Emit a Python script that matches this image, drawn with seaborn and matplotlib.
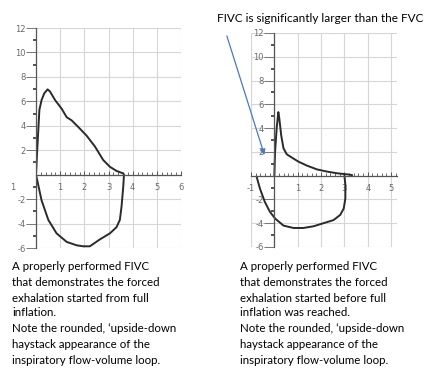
import numpy as np
import pandas as pd
import matplotlib
matplotlib.use("Agg")
import matplotlib.pyplot as plt
import seaborn as sns
from matplotlib.ticker import MultipleLocator, FixedLocator

sns.set_theme(style="white")
plt.rcParams['font.family'] = ['Lato', 'DejaVu Sans']

# ---- data: left panel (full inflation) ----
left_vol = [0, 0.05, 0.14, 0.23, 0.34, 0.48, 0.58, 0.79, 1.06, 1.27, 1.47, 1.75, 2.09, 2.44, 2.78, 3.06, 3.33, 3.61, 3.64,
            3.61, 3.54, 3.47, 3.33, 3.06, 2.64, 2.23, 1.95, 1.68, 1.27, 0.85, 0.51, 0.23, 0.05, 0]
left_flow = [0, 2.0, 5.3, 6.1, 6.65, 6.98, 6.8, 6.1, 5.4, 4.7, 4.45, 3.9, 3.2, 2.3, 1.2, 0.64, 0.31, 0.1, 0,
             -1.0, -2.6, -3.7, -4.3, -4.8, -5.3, -5.86, -5.86, -5.78, -5.5, -4.8, -3.7, -2.1, -0.45, 0]

# ---- data: right panel (before full inflation) ----
right_exp_vol = [0, 0.03, 0.10, 0.17, 0.21, 0.29, 0.39, 0.53, 0.75, 1.03, 1.39, 1.82, 2.26, 2.69, 3.12, 3.33]
right_exp_flow = [0, 2.0, 4.0, 5.35, 4.85, 3.43, 2.3, 1.8, 1.52, 1.18, 0.85, 0.53, 0.34, 0.2, 0.11, 0.05]
right_insp_vol = [3.0, 3.04, 3.04, 2.97, 2.82, 2.53, 2.1, 1.67, 1.24, 0.82, 0.39, 0.03, -0.19, -0.41, -0.62, -0.76]
right_insp_flow = [0, -0.8, -1.9, -2.76, -3.3, -3.74, -4.0, -4.26, -4.4, -4.4, -4.2, -3.6, -3.04, -2.2, -1.07, -0.08]

y_major = [12, 10, 8, 6, 4, 2, -2, -4, -6]
y_minor = [11, 9, 7, 5, 3, 1, -1, -3, -5]
left_xticks = [1, 2, 3, 4, 5, 6]
right_xticks = [-1, 1, 2, 3, 4, 5]

title_text = "FIVC is significantly larger than the FVC"
left_caption = ["A properly performed FIVC",
                "that demonstrates the forced",
                "exhalation started from full",
                "inflation.",
                "Note the rounded, \u2018upside-down",
                "haystack appearance of the",
                "inspiratory flow-volume loop."]
right_caption = ["A properly performed FIVC",
                 "that demonstrates the forced",
                 "exhalation started before full",
                 "inflation was reached.",
                 "Note the rounded, \u2018upside-down",
                 "haystack appearance of the",
                 "inspiratory flow-volume loop."]

W, H = 429, 369
fig = plt.figure(figsize=(W / 100, H / 100), dpi=100)

def px_axes(x0, y0, x1, y1):
    return fig.add_axes([x0 / W, 1 - y1 / H, (x1 - x0) / W, (y1 - y0) / H])

axL = px_axes(36, 28, 181, 248)
axR = px_axes(251, 33, 397, 247)

line_col = "#2a2a2a"
lab_col = "#6a6a6a"

def style(ax, xlim, xticks):
    ax.set_xlim(*xlim)
    ax.set_ylim(-6, 12)
    for s in ["top", "right"]:
        ax.spines[s].set_visible(False)
    ax.spines["left"].set_position(("data", 0))
    ax.spines["bottom"].set_position(("data", 0))
    for s in ["left", "bottom"]:
        ax.spines[s].set_color("#555555")
        ax.spines[s].set_linewidth(0.9)
    # grid
    gx = np.arange(np.ceil(xlim[0]), np.floor(xlim[1]) + 1)
    for v in gx:
        ax.axvline(v, color="#d6d6d6", lw=0.8, zorder=0)
    for v in range(-6, 13, 2):
        ax.axhline(v, color="#d6d6d6", lw=0.8, zorder=0)
    if xlim[0] < 0:
        ax.axvline(xlim[0], color="#d6d6d6", lw=0.8, zorder=0)
    # y ticks
    ax.yaxis.set_major_locator(FixedLocator(y_major))
    ax.yaxis.set_minor_locator(FixedLocator(y_minor))
    ax.set_yticklabels([str(v) for v in y_major])
    ax.tick_params(axis="y", which="major", direction="out", length=7, width=0.7,
                   color="#777777", pad=0.5, labelsize=6, labelcolor=lab_col, left=True)
    ax.tick_params(axis="y", which="minor", direction="out", length=2.5, width=1.3,
                   color="#444444", left=True)
    # x ticks
    ax.xaxis.set_major_locator(FixedLocator(xticks))
    ax.xaxis.set_minor_locator(MultipleLocator(0.2))
    ax.set_xticklabels([str(v) for v in xticks])
    ax.tick_params(axis="x", which="major", direction="in", length=3, width=0.7,
                   color="#555555", pad=6, labelsize=6, labelcolor=lab_col, bottom=True)
    ax.tick_params(axis="x", which="minor", direction="in", length=2.2, width=0.6,
                   color="#555555", bottom=True)
    ax.set_xlabel("")
    ax.set_ylabel("")
    for lab in ax.get_xticklabels() + ax.get_yticklabels():
        lab.set_fontfamily("DejaVu Sans")

# left panel
dfL = pd.DataFrame({"vol": left_vol, "flow": left_flow})
sns.lineplot(data=dfL, x="vol", y="flow", sort=False, estimator=None, ax=axL,
             color=line_col, lw=1.4)
style(axL, (0, 6), left_xticks)
axL.text(-0.98, -0.7, "1", ha="center", va="top", fontsize=6,
         color=lab_col, clip_on=False, family="DejaVu Sans")

# right panel
dfRe = pd.DataFrame({"vol": right_exp_vol, "flow": right_exp_flow})
dfRi = pd.DataFrame({"vol": right_insp_vol, "flow": right_insp_flow})
sns.lineplot(data=dfRe, x="vol", y="flow", sort=False, estimator=None, ax=axR,
             color=line_col, lw=1.4)
sns.lineplot(data=dfRi, x="vol", y="flow", sort=False, estimator=None, ax=axR,
             color=line_col, lw=1.4)
style(axR, (-1, 5.25), right_xticks)

# arrow
axR.annotate("", xy=(-0.39, 1.52), xytext=(-2.07, 11.98), xycoords="data", textcoords="data",
             arrowprops=dict(arrowstyle="-|>", color="#4a78c8", lw=0.9, mutation_scale=8),
             annotation_clip=False)

fig.text(217 / W, 1 - 19 / H, title_text, ha="left", va="center", fontsize=8.5, color="#000000")

ys = [266, 282, 298, 313, 329, 345, 361]
for i, y in enumerate(ys):
    fig.text(12 / W, 1 - y / H, left_caption[i], ha="left", va="center", fontsize=8.3, color="#000000")
    fig.text(240 / W, 1 - y / H, right_caption[i], ha="left", va="center", fontsize=8.3, color="#000000")

fig.savefig("out.png", dpi=100)
